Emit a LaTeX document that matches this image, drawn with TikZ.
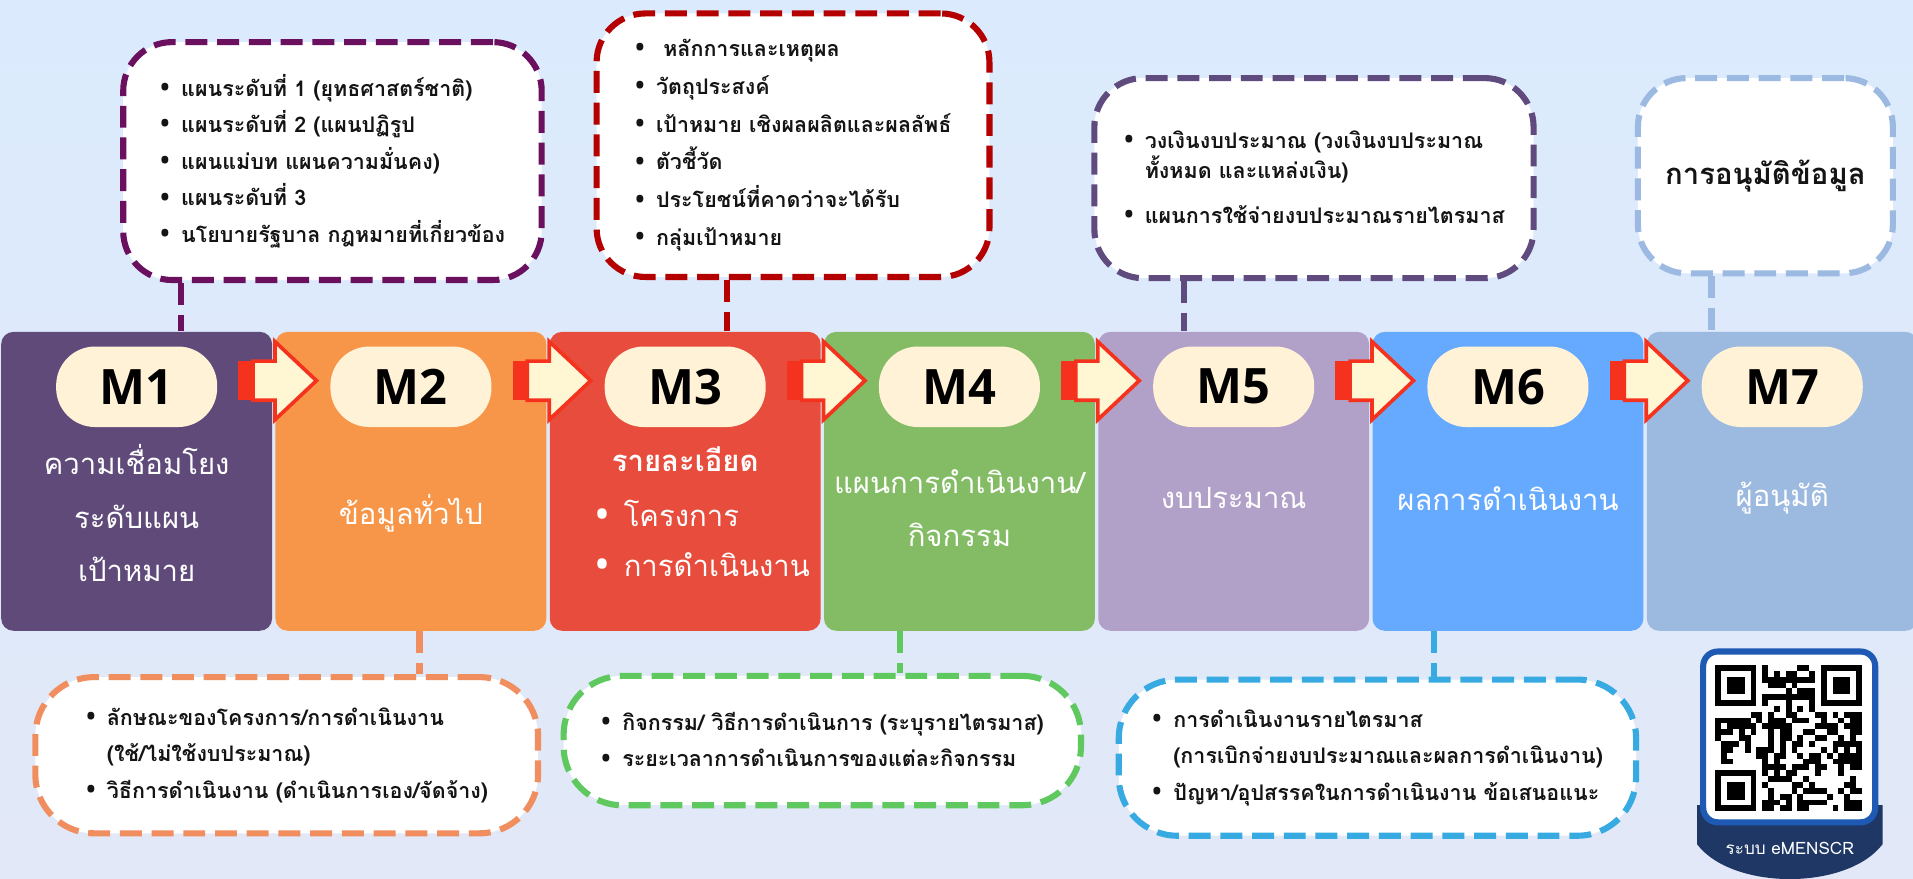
\documentclass[tikz,border=0pt]{standalone}
\usepackage{fontspec}
\setmainfont{Noto Sans}
\newfontfamily\thai[Script=Thai]{Loma}
\newfontfamily\lbl{Open Sans}
\usetikzlibrary{positioning}

\definecolor{bgtop}{RGB}{219,235,253}
\definecolor{bgbot}{RGB}{226,232,247}
\definecolor{cMa}{RGB}{95,74,122}
\definecolor{cMb}{RGB}{247,150,72}
\definecolor{cMc}{RGB}{231,76,60}
\definecolor{cMd}{RGB}{132,188,101}
\definecolor{cMe}{RGB}{177,160,199}
\definecolor{cMf}{RGB}{102,170,255}
\definecolor{cMg}{RGB}{156,185,224}
\definecolor{pill}{RGB}{255,242,214}
\definecolor{cream}{RGB}{255,246,212}
\definecolor{arred}{RGB}{245,50,30}
\definecolor{ink}{RGB}{20,20,20}
\definecolor{cNa}{RGB}{107,15,95}
\definecolor{cNb}{RGB}{241,142,95}
\definecolor{cNc}{RGB}{180,0,0}
\definecolor{cNd}{RGB}{95,200,95}
\definecolor{cNe}{RGB}{95,75,125}
\definecolor{cNf}{RGB}{55,170,225}
\definecolor{cNg}{RGB}{155,185,225}
\definecolor{qrblue}{RGB}{30,90,180}
\definecolor{qrnavy}{RGB}{30,55,100}

\newcommand{\bul}{\makebox[1em][l]{\raisebox{-0.2ex}{\scalebox{1.45}{\normalfont\bfseries\textbullet}}}}

\begin{document}
\begin{tikzpicture}[
    x=0.5pt, y=-0.5pt,
    stage/.style={
        rectangle,
        rounded corners=5pt,
        minimum width=111pt,
        minimum height=122.5pt,
        inner sep=0pt
    },
    badge/.style={
        rectangle,
        rounded corners=16pt,
        fill=pill,
        minimum width=66pt,
        minimum height=33pt,
        font=\lbl\bfseries\fontsize{20}{24}\selectfont
    },
    title/.style={text=white, align=center, font=\thai\fontsize{12}{22}\selectfont},
    note/.style={
        rectangle,
        rounded corners=20pt,
        fill=white,
        line width=2.5pt,
        dash pattern=on 9pt off 4pt,
        align=left,
        inner sep=0pt,
        text=ink,
        font=\thai\bfseries\fontsize{8.8}{15}\selectfont
    },
    link/.style={line width=2.5pt, dash pattern=on 9pt off 4pt},
    arrowbody/.style={fill=cream, draw=arred, line width=1.5pt}
]

\useasboundingbox (0,0) rectangle (1568,720);
\shade[top color=bgtop, bottom color=bgbot] (0,0) rectangle (1568,720);

% stages
\node[stage, fill=cMa] (m1) at (112,394.5) {};
\node[stage, fill=cMb, right=1pt of m1] (m2) {};
\node[stage, fill=cMc, right=1pt of m2] (m3) {};
\node[stage, fill=cMd, right=1pt of m3] (m4) {};
\node[stage, fill=cMe, right=1pt of m4] (m5) {};
\node[stage, fill=cMf, right=1pt of m5] (m6) {};
\node[stage, fill=cMg, right=1pt of m6] (m7) {};

\node[badge, below=6pt of m1.north] (p1) {M1};
\node[badge, below=6pt of m2.north] (p2) {M2};
\node[badge, below=6pt of m3.north] (p3) {M3};
\node[badge, below=6pt of m4.north] (p4) {M4};
\node[badge, below=6pt of m5.north] (p5) {M5};
\node[badge, below=6pt of m6.north] (p6) {M6};
\node[badge, below=6pt of m7.north] (p7) {M7};

\node[title] (t1) at ([yshift=-13pt]m1.center) {ความเชื่อมโยง\\ระดับแผน\\เป้าหมาย};
\node[title] (t2) at ([yshift=-13pt]m2.center) {ข้อมูลทั่วไป};
\node[title, font=\thai\bfseries\fontsize{12}{22}\selectfont] (t3) at ([yshift=9pt]m3.center) {รายละเอียด};
\node[title, align=left, anchor=west, font=\thai\fontsize{12}{20.5}\selectfont] (t3b) at ([xshift=15pt, yshift=-24pt]m3.west) {\bul โครงการ\\\bul การดำเนินงาน};
\node[title] (t4) at ([yshift=-11pt]m4.center) {แผนการดำเนินงาน/\\กิจกรรม};
\node[title] (t5) at ([yshift=-7pt]m5.center) {งบประมาณ};
\node[title] (t6) at ([yshift=-7pt]m6.center) {ผลการดำเนินงาน};
\node[title] (t7) at ([yshift=-7pt]m7.center) {ผู้อนุมัติ};

% block arrows between stages
\foreach \a/\b in {1/2,2/3,3/4,4/5,5/6,6/7} {
  \begin{scope}[shift={(m\a.east |- p\a.center)}]
    \fill[arred] (-28,-21) rectangle (-15,11);
    \draw[arrowbody] (-16,-21) -- (2,-21) -- (2,-37) -- (36,-5) -- (2,27) -- (2,11) -- (-16,11) -- cycle;
  \end{scope}
}

% callouts above
\node[note, draw=cNa, minimum width=171.5pt, minimum height=97.5pt] (c1) at (272.5,132)
  {\bul แผนระดับที่ 1 (ยุทธศาสตร์ชาติ)\\\bul แผนระดับที่ 2 (แผนปฏิรูป\\\bul แผนแม่บท แผนความมั่นคง)\\\bul แผนระดับที่ 3\\\bul นโยบายรัฐบาล กฎหมายที่เกี่ยวข้อง};
\node[note, draw=cNc, minimum width=161pt, minimum height=108pt, font=\thai\bfseries\fontsize{8.8}{15.5}\selectfont] (c3) at (650,119)
  {\bul\ หลักการและเหตุผล\\\bul วัตถุประสงค์\\\bul เป้าหมาย เชิงผลผลิตและผลลัพธ์\\\bul ตัวชี้วัด\\\bul ประโยชน์ที่คาดว่าจะได้รับ\\\bul กลุ่มเป้าหมาย};
\node[note, draw=cNe, minimum width=180pt, minimum height=82pt, font=\thai\bfseries\fontsize{8.8}{12.5}\selectfont] (c5) at (1077,146)
  {\bul วงเงินงบประมาณ (วงเงินงบประมาณ\\\hspace*{1em}ทั้งหมด และแหล่งเงิน)\\[6pt]\bul แผนการใช้จ่ายงบประมาณรายไตรมาส};
\node[note, draw=cNg, minimum width=104.5pt, minimum height=80pt, align=center, font=\thai\bfseries\fontsize{12}{15}\selectfont] (c7) at (1447,144)
  {การอนุมัติข้อมูล};

% callouts below
\node[note, draw=cNb, rounded corners=24pt, minimum width=206pt, minimum height=64pt] (c2) at (235,619)
  {\bul ลักษณะของโครงการ/การดำเนินงาน\\\hspace*{1em}(ใช้/ไม่ใช้งบประมาณ)\\\bul วิธีการดำเนินงาน (ดำเนินการเอง/จัดจ้าง)};
\node[note, draw=cNd, rounded corners=24pt, minimum width=212pt, minimum height=53pt] (c4) at (674,607)
  {\bul กิจกรรม/ วิธีการดำเนินการ (ระบุรายไตรมาส)\\\bul ระยะเวลาการดำเนินการของแต่ละกิจกรรม};
\node[note, draw=cNf, rounded corners=24pt, minimum width=212pt, minimum height=64pt] (c6) at (1129,621)
  {\bul การดำเนินงานรายไตรมาส\\\hspace*{1em}(การเบิกจ่ายงบประมาณและผลการดำเนินงาน)\\\bul ปัญหา/อุปสรรคในการดำเนินงาน ข้อเสนอแนะ};

% links
\coordinate (k1) at ([xshift=18pt]m1.north);
\coordinate (k3) at ([xshift=17pt]m3.north);
\coordinate (k5) at ([xshift=-20.5pt]m5.north);
\coordinate (k7) at ([xshift=-29pt]m7.north);
\coordinate (k2) at ([xshift=3.5pt]m2.south);
\coordinate (k4) at ([xshift=-24.5pt]m4.south);
\coordinate (k6) at ([xshift=-30.5pt]m6.south);

\draw[link, draw=cNa] (c1.south -| k1) -- (k1);
\draw[link, draw=cNc] (c3.south -| k3) -- (k3);
\draw[link, draw=cNe] (c5.south -| k5) -- (k5);
\draw[link, draw=cNg] (c7.south -| k7) -- (k7);
\draw[link, draw=cNb] (k2) -- (c2.north -| k2);
\draw[link, draw=cNd] (k4) -- (c4.north -| k4);
\draw[link, draw=cNf] (k6) -- (c6.north -| k6);

% QR badge
\fill[qrnavy] (1391,660) -- (1391,692) .. controls (1420,730) and (1514,730) .. (1543,692) -- (1543,660) -- cycle;
\draw[qrblue, line width=2.5pt, fill=white, rounded corners=6pt] (1396,534) rectangle (1537,674);
\node[text=white, font=\thai\fontsize{7}{8}\selectfont] (brand) at (1467,695) {ระบบ eMENSCR};
\pgfmathsetseed{7}
\foreach \i in {0,...,24} {
  \foreach \j in {0,...,24} {
    \pgfmathtruncatemacro\qrskip{(\i<8 && \j<8) || (\i>16 && \j<8) || (\i<8 && \j>16)}
    \ifnum\qrskip=0
      \pgfmathtruncatemacro\qron{rnd<0.5}
      \ifnum\qron=1 \fill (1406+4.8*\i,545+4.8*\j) rectangle ++(4.8,4.8); \fi
    \fi
  }
}
\foreach \u/\v in {0/0,18/0,0/18} {
  \fill (1406+4.8*\u,545+4.8*\v) rectangle ++(33.6,33.6);
  \fill[white] (1406+4.8*\u+4.8,545+4.8*\v+4.8) rectangle ++(24,24);
  \fill (1406+4.8*\u+9.6,545+4.8*\v+9.6) rectangle ++(14.4,14.4);
}

\end{tikzpicture}
\end{document}
